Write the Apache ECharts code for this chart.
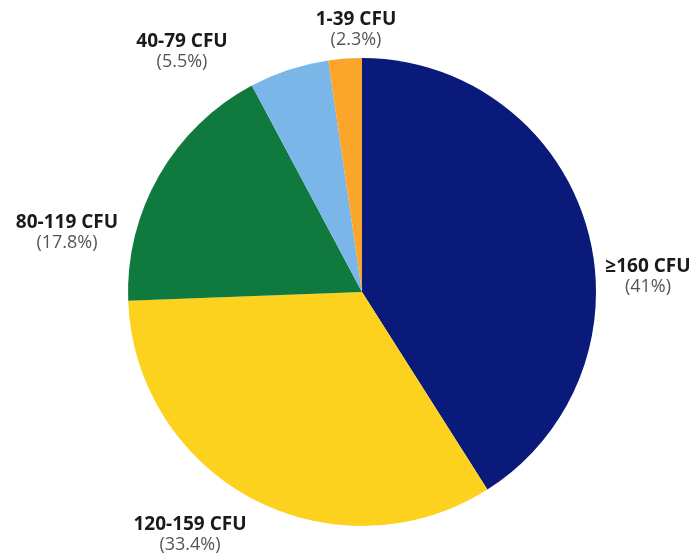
<!DOCTYPE html>
<html>
<head>
<meta charset="utf-8">
<script src="https://cdn.jsdelivr.net/npm/echarts@6/dist/echarts.min.js"></script>
<style>
html,body{margin:0;padding:0;background:#fff;}
#chart{width:695px;height:559px;}
</style>
</head>
<body>
<div id="chart"></div>
<script>
const categories = ['≥160 CFU', '120-159 CFU', '80-119 CFU', '40-79 CFU', '1-39 CFU'];
const values = [41, 33.4, 17.8, 5.5, 2.3];
const colors = ['#0a1a7a', '#fcd21f', '#107a3e', '#7ab6e8', '#fba52a'];
// label centre positions (pixels), one per category
const labelPos = [[648, 277], [190, 535], [67, 233], [182, 52], [356, 30]];

const chart = echarts.init(document.getElementById('chart'), null, {renderer: 'canvas'});
chart.setOption({
  animation: false,
  backgroundColor: '#ffffff',
  series: [{
    type: 'pie',
    center: [362, 292],
    radius: 234,
    startAngle: 90,
    clockwise: true,
    avoidLabelOverlap: false,
    data: categories.map((c, i) => ({name: c, value: values[i], itemStyle: {color: colors[i]}})),
    itemStyle: {borderWidth: 0},
    emphasis: {disabled: true},
    labelLine: {show: false},
    label: {
      show: true,
      position: 'outside',
      formatter: p => '{b|' + p.name + '}\n{p|(' + p.value + '%)}',
      rich: {
        b: {fontFamily: '"Open Sans"', fontWeight: 'bold', fontSize: 19, color: '#1a1a1a', lineHeight: 20, align: 'center'},
        p: {fontFamily: '"Open Sans"', fontSize: 18, color: '#555555', lineHeight: 20, align: 'center'}
      }
    },
    labelLayout: params => ({
      x: labelPos[params.dataIndex][0],
      y: labelPos[params.dataIndex][1],
      align: 'center',
      verticalAlign: 'middle'
    })
  }]
});
</script>
</body>
</html>
